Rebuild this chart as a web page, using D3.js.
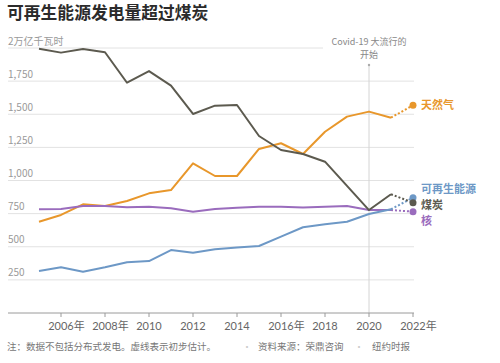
<!DOCTYPE html>
<html>
<head>
<meta charset="utf-8">
<script src="https://cdn.jsdelivr.net/npm/d3@7"></script>
<style>
  body { margin: 0; background: #fff; }
  svg { display: block; font-family: "Noto Sans CJK SC", "Noto Sans", sans-serif; }
</style>
</head>
<body>
<svg width="500" height="363"></svg>
<script>
// years 2005..2022, last value is the preliminary estimate
const years = d3.range(2005, 2023);
const coal = [1995, 1965, 1992, 1968, 1738, 1826, 1716, 1502, 1565, 1570, 1336, 1230, 1200, 1142, 960, 777, 896, 833];
const gas = [689, 740, 820, 808, 845, 903, 928, 1130, 1034, 1034, 1238, 1281, 1200, 1368, 1482, 1520, 1474, 1568];
const nuclear = [783, 785, 808, 808, 798, 802, 790, 765, 785, 795, 802, 802, 797, 802, 808, 777, 777, 765];
const renewables = [317, 345, 312, 345, 383, 392, 475, 455, 481, 494, 506, 576, 647, 670, 689, 747, 783, 870];

const seriesNames = ['天然气', '可再生能源', '煤炭', '核'];
const seriesValues = [gas, renewables, coal, nuclear];
const yTicks = [250, 500, 750, 1000, 1250, 1500, 1750, 2000];
const xTicks = [2006, 2008, 2010, 2012, 2014, 2016, 2018, 2020, 2022];
const xTickLabels = ['2006年', '2008年', '2010', '2012', '2014', '2016年', '2018', '2020', '2022年'];
const covidLines = ['Covid-19 大流行的', '开始'];
const footParts = ['注：数据不包括分布式发电。虚线表示初步估计。', '资料来源：荣鼎咨询', '纽约时报'];

const colors = ['#e8972b', '#6d98c6', '#5c5a4f', '#9a6cbd'];
const labelNudge = [0, -9, 3, 10];

const svg = d3.select('svg');
const x = d3.scaleLinear().domain([2005, 2022]).range([39, 413]);
const y = d3.scaleLinear().domain([0, 2000]).range([313, 48]);
const left = 8;
const right = 414;

svg.append('text')
	.attr('x', 7)
	.attr('y', 19)
	.attr('font-size', 16.8)
	.attr('font-weight', 'bold')
	.attr('fill', '#2b2b2b')
	.text('可再生能源发电量超过煤炭');

// gridlines + y labels
const grid = svg.append('g');
grid.selectAll('line')
	.data(yTicks)
	.enter()
		.append('line')
		.attr('x1', left)
		.attr('x2', right)
		.attr('y1', d => y(d))
		.attr('y2', d => y(d))
		.attr('stroke', '#e2e2e2');
grid.selectAll('text')
	.data(yTicks)
	.enter()
		.append('text')
		.attr('x', left)
		.attr('y', d => y(d) - 3.5)
		.attr('font-size', 10)
		.attr('fill', '#9a9a9a')
		.text(d => d === 2000 ? '2万亿千瓦时' : d3.format(',')(d));

// covid annotation
const cx = x(2020);
svg.append('rect')
	.attr('x', cx - 46)
	.attr('y', 34)
	.attr('width', 92)
	.attr('height', 27)
	.attr('fill', '#fff');
svg.append('line')
	.attr('x1', cx).attr('x2', cx)
	.attr('y1', 65).attr('y2', y(0))
	.attr('stroke', '#d4d4d4');
svg.append('circle')
	.attr('cx', cx).attr('cy', 65).attr('r', 1.2)
	.attr('fill', '#aaa');
svg.selectAll('text.covid')
	.data(covidLines)
	.enter()
		.append('text')
		.attr('class', 'covid')
		.attr('x', cx)
		.attr('y', (d, i) => 45 + i * 13)
		.attr('text-anchor', 'middle')
		.attr('font-size', 9)
		.attr('fill', '#888')
		.text(d => d);

// x axis
const xAxis = svg.append('g');
xAxis.append('line')
	.attr('x1', left).attr('x2', right)
	.attr('y1', y(0)).attr('y2', y(0))
	.attr('stroke', '#9a9a9a');
xAxis.selectAll('line.tick')
	.data(xTicks)
	.enter()
		.append('line')
		.attr('class', 'tick')
		.attr('x1', d => x(d)).attr('x2', d => x(d))
		.attr('y1', y(0)).attr('y2', y(0) + 4)
		.attr('stroke', '#9a9a9a');
xAxis.selectAll('text')
	.data(xTicks)
	.enter()
		.append('text')
		.attr('y', 330)
		.attr('font-size', 11)
		.attr('fill', '#666')
		.attr('font-family', 'Lato, "Noto Sans CJK SC", sans-serif')
		.each(function (d, i) {
			const t = d3.select(this).text(String(d));
			const w = this.getComputedTextLength();
			t.text(xTickLabels[i]).attr('x', x(d) - w / 2);
		});

// lines
const solidLine = d3.line()
	.x((d, i) => x(years[i]))
	.y(d => y(d));
const draw = [0, 3, 1, 2];
draw.forEach((k) => {
	const vals = seriesValues[k];
	const n = vals.length;
	const g = svg.append('g');
	g.append('path')
		.datum(vals.slice(0, n - 1))
		.attr('d', solidLine)
		.attr('fill', 'none')
		.attr('stroke', colors[k])
		.attr('stroke-width', 2)
		.attr('stroke-linejoin', 'round');
	g.append('line')
		.attr('x1', x(years[n - 2])).attr('y1', y(vals[n - 2]))
		.attr('x2', x(years[n - 1])).attr('y2', y(vals[n - 1]))
		.attr('stroke', colors[k])
		.attr('stroke-width', 2)
		.attr('stroke-dasharray', '2,2');
	g.append('circle')
		.attr('cx', x(years[n - 1]))
		.attr('cy', y(vals[n - 1]))
		.attr('r', 3.5)
		.attr('fill', colors[k]);
	g.append('text')
		.attr('x', 421)
		.attr('y', y(vals[n - 1]) + labelNudge[k])
		.attr('dy', '0.35em')
		.attr('font-size', 11)
		.attr('font-weight', 'bold')
		.attr('fill', colors[k])
		.text(seriesNames[k]);
});

// footnote
const footX = [7, 258, 372];
const bulletX = [247, 359];
const foot = svg.append('g')
	.attr('font-size', 9.5);
foot.selectAll('text.part')
	.data(footParts)
	.enter()
		.append('text')
		.attr('class', 'part')
		.attr('x', (d, i) => footX[i])
		.attr('y', 350)
		.attr('fill', '#777')
		.text(d => d);
foot.selectAll('text.bullet')
	.data(bulletX)
	.enter()
		.append('text')
		.attr('class', 'bullet')
		.attr('x', d => d)
		.attr('y', 350)
		.attr('text-anchor', 'middle')
		.attr('fill', '#ccc')
		.text('•');
</script>
</body>
</html>
